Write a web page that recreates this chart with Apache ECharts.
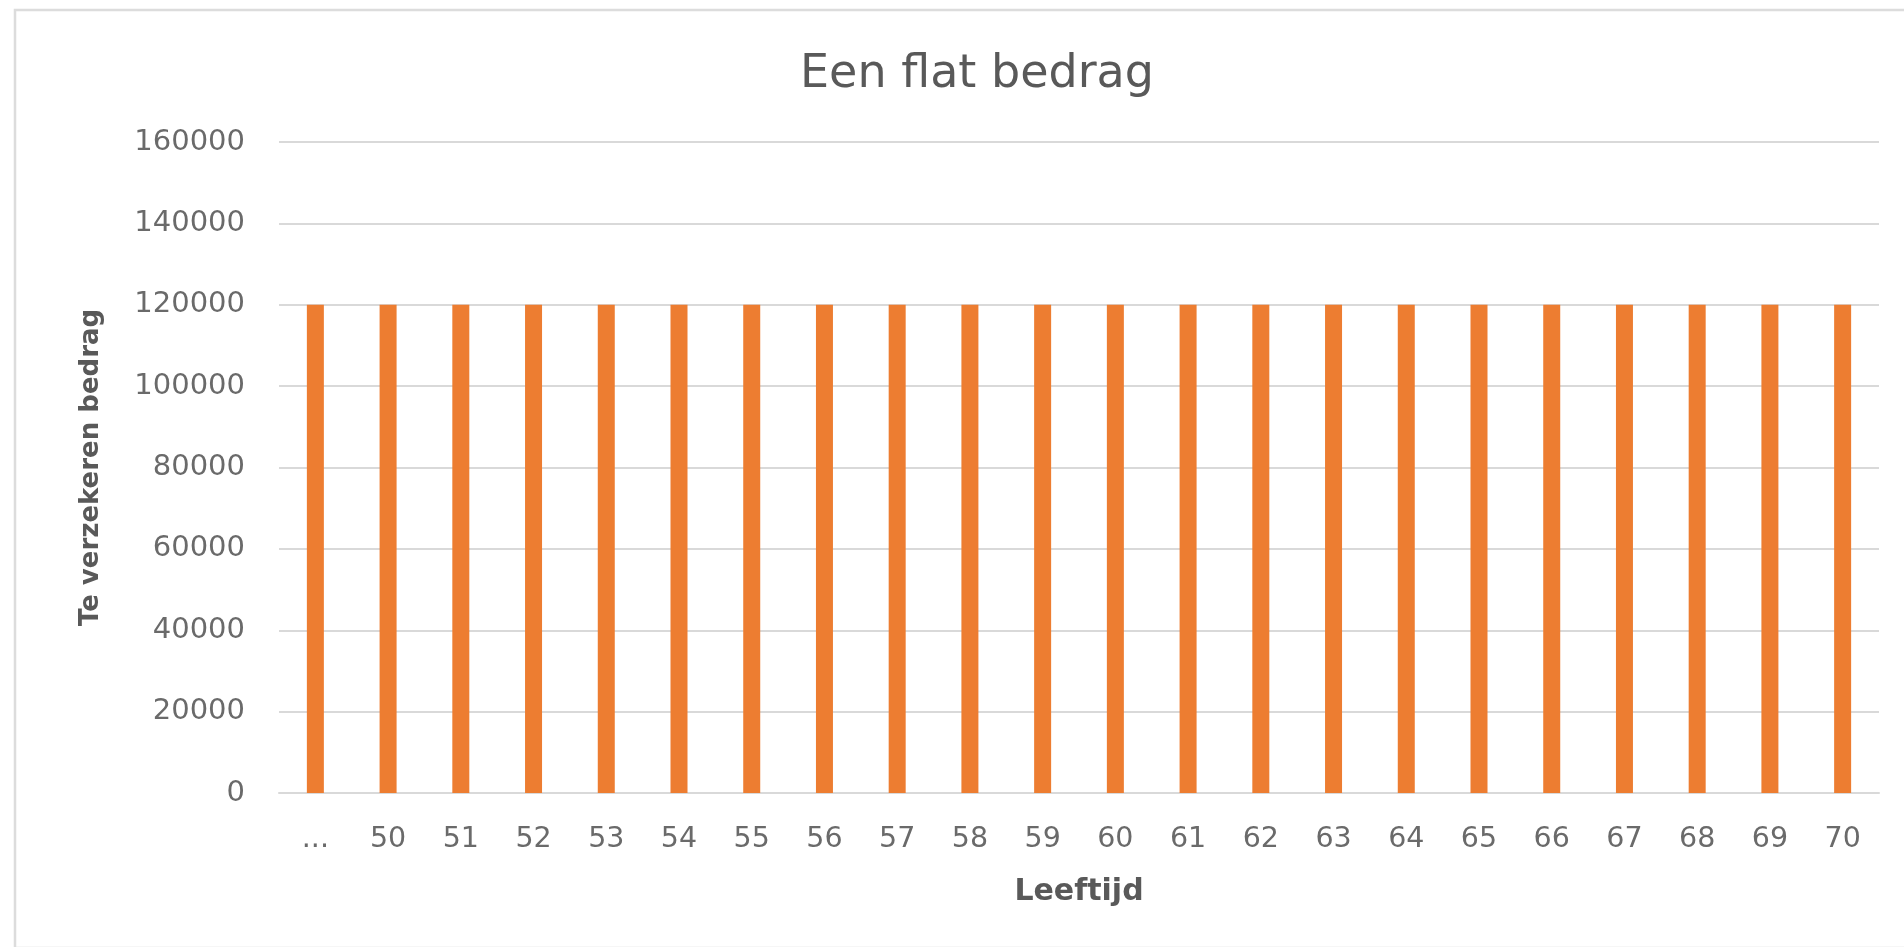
<!DOCTYPE html>
<html>
<head>
<meta charset="utf-8">
<title>Een flat bedrag</title>
<script src="https://cdn.jsdelivr.net/npm/echarts@6/dist/echarts.min.js"></script>
<style>
  html, body { margin: 0; padding: 0; background: #ffffff; }
  #chart { width: 1904px; height: 947px; }
</style>
</head>
<body>
<div id="chart"></div>
<script>
// Leeftijden (x-as) en het te verzekeren bedrag per leeftijd
const ages = ['...', '50', '51', '52', '53', '54', '55', '56', '57', '58', '59', '60', '61', '62', '63', '64', '65', '66', '67', '68', '69', '70'];
const amounts = [120000, 120000, 120000, 120000, 120000, 120000, 120000, 120000, 120000, 120000, 120000, 120000, 120000, 120000, 120000, 120000, 120000, 120000, 120000, 120000, 120000, 120000];
const yMin = 0;
const yMax = 160000;
const yStep = 20000;

const chart = echarts.init(document.getElementById('chart'), null, { renderer: 'canvas' });

const textGrey = '#595959';
const labelGrey = '#6a6a6a';
const lineGrey = '#d9d9d9';

chart.setOption({
  backgroundColor: '#ffffff',
  animation: false,
  title: {
    text: 'Een flat bedrag',
    left: 972,
    top: 47,
    textAlign: 'center',
    textStyle: {
      fontFamily: 'DejaVu Sans',
      fontSize: 46,
      fontWeight: 'normal',
      color: textGrey
    }
  },
  graphic: [{
    // chart-area frame (left and top edges visible)
    type: 'rect',
    silent: true,
    z: -10,
    shape: { x: 15, y: 10, width: 1950, height: 938 },
    style: { fill: 'none', stroke: '#dcdcdc', lineWidth: 2.5 }
  }],
  grid: {
    left: 279,
    right: 25,
    top: 142,
    bottom: 154,
    containLabel: false
  },
  xAxis: {
    type: 'category',
    data: ages,
    boundaryGap: true,
    name: 'Leeftijd',
    nameLocation: 'middle',
    nameGap: 84,
    nameTextStyle: {
      fontFamily: 'DejaVu Sans',
      fontSize: 30,
      fontWeight: 'bold',
      color: textGrey
    },
    axisLine: { show: true, lineStyle: { color: lineGrey, width: 2 } },
    axisTick: { show: false },
    axisLabel: {
      margin: 32,
      fontFamily: 'DejaVu Sans',
      fontSize: 28.5,
      color: labelGrey,
      interval: 0
    },
    splitLine: { show: false }
  },
  yAxis: {
    type: 'value',
    min: yMin,
    max: yMax,
    interval: yStep,
    name: 'Te verzekeren bedrag',
    nameLocation: 'middle',
    nameGap: 175,
    nameRotate: 90,
    nameTextStyle: {
      fontFamily: 'DejaVu Sans',
      fontSize: 26,
      fontWeight: 'bold',
      color: textGrey
    },
    axisLine: { show: false },
    axisTick: { show: false },
    axisLabel: {
      margin: 34,
      fontFamily: 'DejaVu Sans',
      fontSize: 29,
      color: labelGrey,
      formatter: function (v) { return String(v); }
    },
    splitLine: { show: true, lineStyle: { color: lineGrey, width: 2 } }
  },
  series: [{
    type: 'bar',
    data: amounts,
    barWidth: 17,
    itemStyle: { color: '#ED7D31' }
  }]
});
</script>
</body>
</html>
